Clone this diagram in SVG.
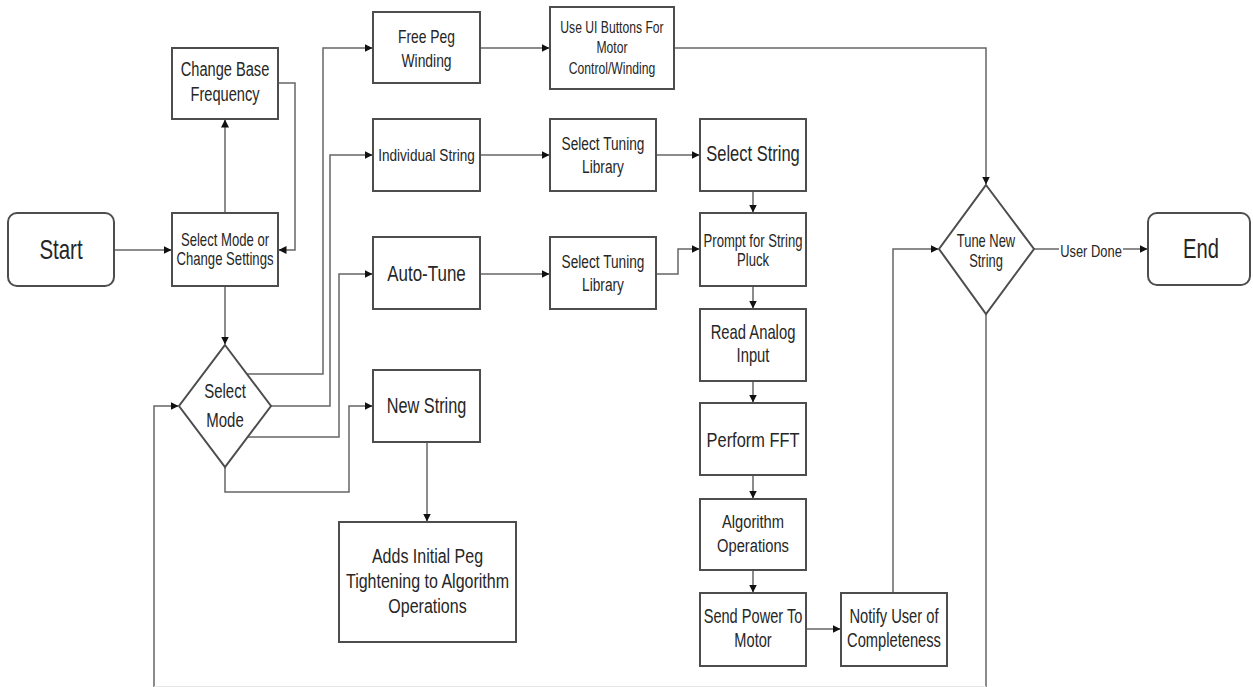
<svg xmlns="http://www.w3.org/2000/svg" width="1253" height="687" viewBox="0 0 1253 687">
<style>
.box{fill:#fff;stroke:#4d4d4d;stroke-width:2}
.t{font-family:"Liberation Sans",Arial,sans-serif;fill:#262626;text-anchor:middle}
.c{fill:none;stroke:#666;stroke-width:1.5}
</style>
<defs>
<marker id="ah" markerUnits="userSpaceOnUse" markerWidth="8" markerHeight="8" refX="7.5" refY="4" orient="auto">
<path d="M0,0 L8,4 L0,8 z" fill="#111"/>
</marker>
</defs>
<rect width="1253" height="687" fill="#fff"/>
<g id="connectors">
<path class="c" d="M114,250 H171" marker-end="url(#ah)"/>
<path class="c" d="M225,213 V120" marker-end="url(#ah)"/>
<path class="c" d="M278,83 H295 V250 H279" marker-end="url(#ah)"/>
<path class="c" d="M225,286 V344" marker-end="url(#ah)"/>
<path class="c" d="M247,374 H323 V48 H372" marker-end="url(#ah)"/>
<path class="c" d="M271,406 H330 V155 H372" marker-end="url(#ah)"/>
<path class="c" d="M248,437 H339 V274 H372" marker-end="url(#ah)"/>
<path class="c" d="M225,467 V492 H349 V406 H372" marker-end="url(#ah)"/>
<path class="c" d="M427,442 V521" marker-end="url(#ah)"/>
<path class="c" d="M480,48 H549" marker-end="url(#ah)"/>
<path class="c" d="M674,48 H986 V184" marker-end="url(#ah)"/>
<path class="c" d="M480,155 H549" marker-end="url(#ah)"/>
<path class="c" d="M656,155 H699" marker-end="url(#ah)"/>
<path class="c" d="M480,274 H549" marker-end="url(#ah)"/>
<path class="c" d="M656,274 H678 V249 H699" marker-end="url(#ah)"/>
<path class="c" d="M753,191 V212" marker-end="url(#ah)"/>
<path class="c" d="M753,286 V308" marker-end="url(#ah)"/>
<path class="c" d="M753,381 V402" marker-end="url(#ah)"/>
<path class="c" d="M753,475 V498" marker-end="url(#ah)"/>
<path class="c" d="M753,570 V592" marker-end="url(#ah)"/>
<path class="c" d="M806,629 H840" marker-end="url(#ah)"/>
<path class="c" d="M893,593 V249 H938" marker-end="url(#ah)"/>
<path class="c" d="M1034,249 H1147" marker-end="url(#ah)"/>
<path class="c" d="M986,314 V689 H154 V406 H178" marker-end="url(#ah)"/>
<line x1="154" y1="686.5" x2="986" y2="686.5" stroke="#e6e6e6" stroke-width="1"/>
<rect x="1059" y="240" width="64" height="20" fill="#fff"/>
<text class="t" font-size="17" transform="translate(1091,257) scale(0.76,1)">User Done</text>
</g>
<g id="start">
<rect class="box" x="8" y="213" width="106" height="73" rx="9"/>
<text class="t" font-size="28" transform="translate(61,259) scale(0.73,1)">Start</text>
</g>
<g id="change-base">
<rect class="box" x="172" y="48" width="106" height="71"/>
<text class="t" font-size="19.5" transform="translate(225,76) scale(0.75,1)"><tspan x="0">Change Base</tspan><tspan x="0" dy="25">Frequency</tspan></text>
</g>
<g id="select-settings">
<rect class="box" x="172" y="213" width="106" height="73"/>
<text class="t" font-size="17.5" transform="translate(225,246) scale(0.75,1)"><tspan x="0">Select Mode or</tspan><tspan x="0" dy="19">Change Settings</tspan></text>
</g>
<g id="select-mode">
<path class="box" d="M225,345 L271,406 L225,467 L179,406 Z"/>
<text class="t" font-size="20" transform="translate(225,398) scale(0.75,1)"><tspan x="0">Select</tspan><tspan x="0" dy="29">Mode</tspan></text>
</g>
<g id="free-peg">
<rect class="box" x="373" y="12" width="107" height="71"/>
<text class="t" font-size="18.5" transform="translate(426.5,43) scale(0.75,1)"><tspan x="0">Free Peg</tspan><tspan x="0" dy="24">Winding</tspan></text>
</g>
<g id="use-ui">
<rect class="box" x="550" y="7" width="124" height="82"/>
<text class="t" font-size="16" transform="translate(612,33) scale(0.76,1)"><tspan x="0">Use UI Buttons For</tspan><tspan x="0" dy="20.5">Motor</tspan><tspan x="0" dy="20.5">Control/Winding</tspan></text>
</g>
<g id="individual-string">
<rect class="box" x="373" y="119" width="107" height="72"/>
<text class="t" font-size="17" transform="translate(426.5,161) scale(0.8,1)">Individual String</text>
</g>
<g id="select-tuning-1">
<rect class="box" x="550" y="119" width="106" height="72"/>
<text class="t" font-size="18.5" transform="translate(603,150) scale(0.74,1)"><tspan x="0">Select Tuning</tspan><tspan x="0" dy="23">Library</tspan></text>
</g>
<g id="select-string">
<rect class="box" x="700" y="119" width="106" height="72"/>
<text class="t" font-size="22" transform="translate(753,161) scale(0.75,1)">Select String</text>
</g>
<g id="auto-tune">
<rect class="box" x="373" y="237" width="107" height="72"/>
<text class="t" font-size="22" transform="translate(426.5,281) scale(0.77,1)">Auto-Tune</text>
</g>
<g id="select-tuning-2">
<rect class="box" x="550" y="237" width="106" height="72"/>
<text class="t" font-size="18.5" transform="translate(603,268) scale(0.74,1)"><tspan x="0">Select Tuning</tspan><tspan x="0" dy="23">Library</tspan></text>
</g>
<g id="prompt">
<rect class="box" x="700" y="213" width="106" height="73"/>
<text class="t" font-size="17.7" transform="translate(753,247) scale(0.74,1)"><tspan x="0">Prompt for String</tspan><tspan x="0" dy="19">Pluck</tspan></text>
</g>
<g id="read-analog">
<rect class="box" x="700" y="309" width="106" height="72"/>
<text class="t" font-size="20" transform="translate(753,339) scale(0.74,1)"><tspan x="0">Read Analog</tspan><tspan x="0" dy="23">Input</tspan></text>
</g>
<g id="fft">
<rect class="box" x="700" y="403" width="106" height="72"/>
<text class="t" font-size="21" transform="translate(753,447) scale(0.78,1)">Perform FFT</text>
</g>
<g id="algorithm">
<rect class="box" x="700" y="499" width="106" height="71"/>
<text class="t" font-size="18.6" transform="translate(753,528) scale(0.79,1)"><tspan x="0">Algorithm</tspan><tspan x="0" dy="24">Operations</tspan></text>
</g>
<g id="send-power">
<rect class="box" x="700" y="593" width="106" height="73"/>
<text class="t" font-size="20" transform="translate(753,623) scale(0.73,1)"><tspan x="0">Send Power To</tspan><tspan x="0" dy="24">Motor</tspan></text>
</g>
<g id="notify">
<rect class="box" x="841" y="593" width="106" height="73"/>
<text class="t" font-size="20" transform="translate(894,623) scale(0.735,1)"><tspan x="0">Notify User of</tspan><tspan x="0" dy="24">Completeness</tspan></text>
</g>
<g id="new-string">
<rect class="box" x="373" y="370" width="107" height="72"/>
<text class="t" font-size="22" transform="translate(426.5,413) scale(0.74,1)">New String</text>
</g>
<g id="adds-initial">
<rect class="box" x="339" y="522" width="177" height="120"/>
<text class="t" font-size="20" transform="translate(427.5,563) scale(0.8,1)"><tspan x="0">Adds Initial Peg</tspan><tspan x="0" dy="25">Tightening to Algorithm</tspan><tspan x="0" dy="25">Operations</tspan></text>
</g>
<g id="tune-new">
<path class="box" d="M986,185 L1034,249 L986,314 L939,249 Z"/>
<text class="t" font-size="17.7" transform="translate(986,247) scale(0.73,1)"><tspan x="0">Tune New</tspan><tspan x="0" dy="20">String</tspan></text>
</g>
<g id="end">
<rect class="box" x="1148" y="213" width="102" height="72" rx="9"/>
<text class="t" font-size="28" transform="translate(1201,258) scale(0.72,1)">End</text>
</g>
</svg>
